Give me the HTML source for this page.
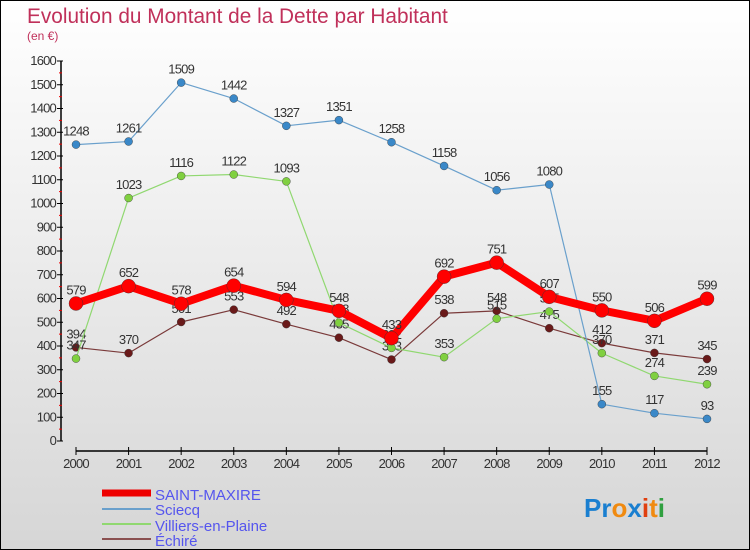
<!DOCTYPE html>
<html><head><meta charset="utf-8"><style>
body{margin:0;}
#wrap{width:748px;height:548px;border:1px solid #000;background:linear-gradient(#fff,#d6d6d6);position:relative;font-family:"Liberation Sans",sans-serif;overflow:hidden}
</style></head><body>
<div id="wrap">
<svg id="svg" width="748" height="548" xmlns="http://www.w3.org/2000/svg">
<text x="26" y="22" font-size="20.8" fill="#c0305a">Evolution du Montant de la Dette par Habitant</text>
<text x="26" y="39" font-size="12" fill="#c0305a">(en €)</text>
<g id="axes"></g><g id="series"></g>
<g>
<line x1="101" y1="492" x2="150" y2="492" stroke="#e00" stroke-width="7"/>
<text x="154" y="499" font-size="15" fill="#5555ee">SAINT-MAXIRE</text>
<line x1="101" y1="508" x2="150" y2="508" stroke="#6aa0cc" stroke-width="2"/>
<text x="154" y="514" font-size="15" fill="#5555ee">Sciecq</text>
<line x1="101" y1="523" x2="150" y2="523" stroke="#90d870" stroke-width="2"/>
<text x="154" y="530" font-size="15" fill="#5555ee">Villiers-en-Plaine</text>
<line x1="101" y1="538" x2="150" y2="538" stroke="#8a5050" stroke-width="2"/>
<text x="154" y="545" font-size="15" fill="#5555ee">Échiré</text>
</g>
<text x="583" y="516" font-size="26" font-weight="bold"><tspan fill="#1a7fd0">Pr</tspan><tspan fill="#f08a10">o</tspan><tspan fill="#1a7fd0">x</tspan><tspan fill="#e04010">i</tspan><tspan fill="#f08a10">t</tspan><tspan fill="#30a040">i</tspan></text>
</svg></div>
<script>
const years=[2000,2001,2002,2003,2004,2005,2006,2007,2008,2009,2010,2011,2012];
const saintMaxire=[579,652,578,654,594,548,433,692,751,607,550,506,599];
const sciecq=[1248,1261,1509,1442,1327,1351,1258,1158,1056,1080,155,117,93];
const villiers=[347,1023,1116,1122,1093,498,392,353,515,545,370,274,239];
const echire=[394,370,501,553,492,435,343,538,548,475,412,371,345];
const yTicks=[0,100,200,300,400,500,600,700,800,900,1000,1100,1200,1300,1400,1500,1600];
const NS="http://www.w3.org/2000/svg";
const xs=i=>75+i*(706-75)/(years.length-1);
const ys=v=>440-v*380/1600;
function mk(tag,at,parent){const e=document.createElementNS(NS,tag);for(const k in at)e.setAttribute(k,at[k]);parent.appendChild(e);return e;}
const ax=document.getElementById('axes');
let yl=mk('line',{x1:60,y1:60,x2:60,y2:440,stroke:'#000','stroke-width':1.5},ax);


yTicks.forEach((t,k)=>{
 mk('line',{x1:56,y1:ys(t),x2:62,y2:ys(t),stroke:'#000'},ax);
 if(k<yTicks.length-1) mk('line',{x1:58,y1:ys(t+50),x2:61,y2:ys(t+50),stroke:'#e00'},ax);
 const tx=mk('text',{x:55,y:ys(t)+4,'font-size':13,fill:'#333','text-anchor':'end','letter-spacing':'-0.8'},ax);
 tx.textContent=t;
 
 
});
let xl=mk('line',{x1:75,y1:450,x2:706,y2:450,stroke:'#000','stroke-width':1.5},ax);


years.forEach((y,i)=>{
 mk('line',{x1:xs(i),y1:446,x2:xs(i),y2:454,stroke:'#000'},ax);
 const tx=mk('text',{x:xs(i),y:467,'font-size':13,fill:'#333','text-anchor':'middle','letter-spacing':'-0.8'},ax);
 tx.textContent=y;
 
 
});
const sg=document.getElementById('series');
function draw(vals,color,w,r,dot,name){
 const g=mk('g',{},sg);
 
 
 mk('polyline',{points:vals.map((v,i)=>xs(i)+','+ys(v)).join(' '),fill:'none',stroke:color,'stroke-width':w,'stroke-linejoin':'round'},g);
 vals.forEach((v,i)=>{
  const c=mk('circle',{cx:xs(i),cy:ys(v),r:r,fill:dot,stroke:'#333','stroke-width':0.4},g);
  
  
  const t=mk('text',{x:xs(i),y:ys(v)-9,'font-size':13,fill:'#333','text-anchor':'middle','letter-spacing':'-0.8'},g);
  t.textContent=v;
 });
}
draw(echire,'#7a3a3a',1.2,4,'#6a1a1a','series-echire');
draw(villiers,'#90d870',1.2,4,'#80d040','series-villiers');
draw(sciecq,'#6aa0cc',1.2,4,'#3a88c8','series-sciecq');
draw(saintMaxire,'#ff0000',8,7,'#ff0000','series-saint-maxire');
</script>
</body></html>
